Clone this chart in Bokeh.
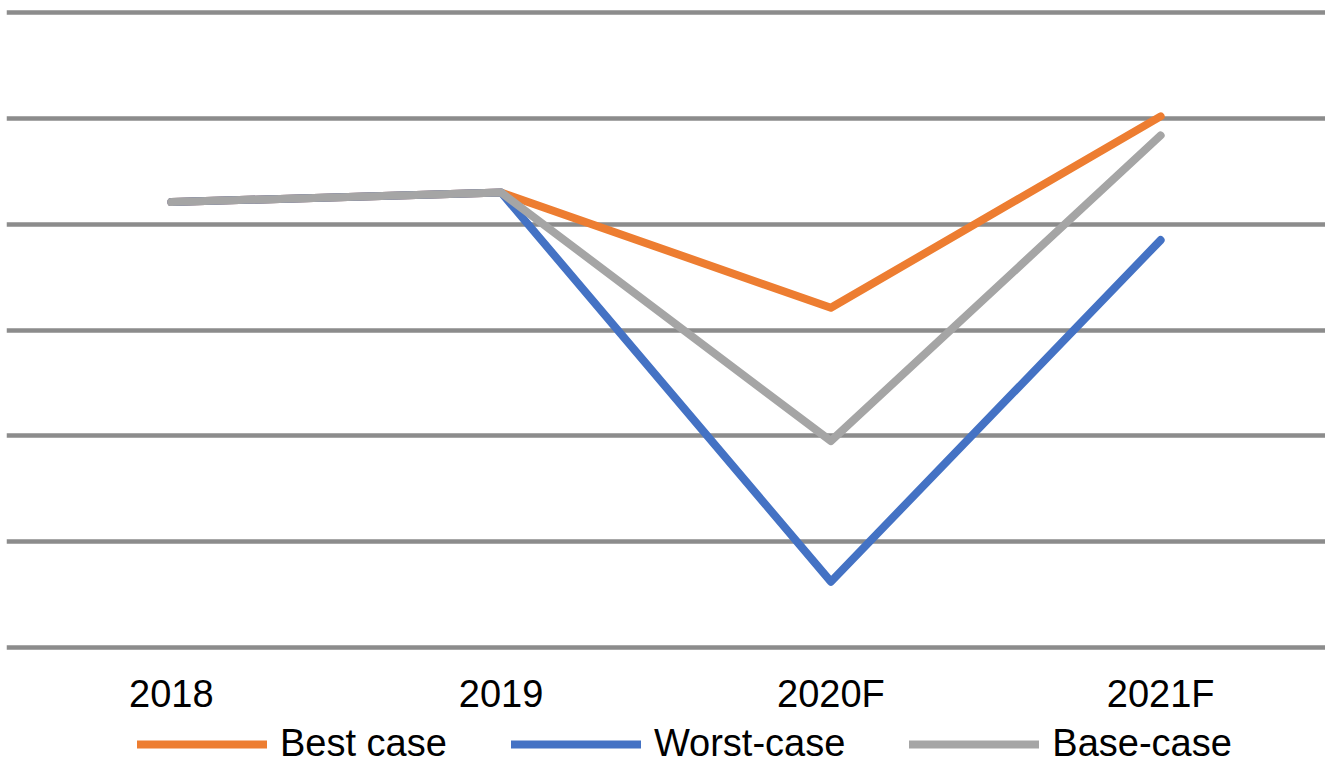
from bokeh.plotting import figure
from bokeh.layouts import column
from bokeh.models import Range1d, FixedTicker, Legend, LegendItem
from bokeh.embed import file_html
from bokeh.resources import INLINE

categories = ["2018", "2019", "2020F", "2021F"]
series_names = ["Best case", "Worst-case", "Base-case"]
best_case = [4.21, 4.30, 3.21, 5.02]
worst_case = [4.21, 4.30, 0.62, 3.85]
base_case = [4.21, 4.30, 1.95, 4.84]
grid_ticks = [0, 1, 2, 3, 4, 5, 6]

FONT = "Liberation Sans"
COLORS = ["#ED7D31", "#4472C4", "#A5A5A5"]
SERIES = [best_case, worst_case, base_case]

# main chart
p = figure(x_range=categories, y_range=Range1d(-0.04, 6.04),
           frame_width=1319, frame_height=643,
           output_backend="svg", toolbar_location=None,
           min_border_left=6, min_border_right=0, min_border_top=8, min_border_bottom=62)
p.outline_line_color = None

for vals, col in zip(SERIES, COLORS):
    p.line(categories, vals, line_color=col, line_width=8, line_cap="round", line_join="round")

p.yaxis.visible = False
p.yaxis.ticker = FixedTicker(ticks=grid_ticks)
p.ygrid.ticker = FixedTicker(ticks=grid_ticks)
p.ygrid.grid_line_color = "#8C8C8C"
p.ygrid.grid_line_width = 4.5
p.xgrid.grid_line_color = None

p.xaxis.axis_line_color = None
p.xaxis.major_tick_line_color = None
p.xaxis.minor_tick_line_color = None
p.xaxis.major_tick_out = 0
p.xaxis.major_tick_in = 0
p.xaxis.minor_tick_out = 0
p.xaxis.major_label_text_font = FONT
p.xaxis.major_label_text_font_size = "38px"
p.xaxis.major_label_text_color = "black"
p.xaxis.major_label_standoff = 21

# legend strip (same series, drawn outside its visible range; only the legend shows)
q = figure(x_range=p.x_range, y_range=Range1d(100, 101),
           frame_width=1325, frame_height=50,
           output_backend="svg", toolbar_location=None,
           x_axis_location=None, y_axis_location=None,
           min_border_left=0, min_border_right=0, min_border_top=0, min_border_bottom=0)
q.outline_line_color = None
q.xgrid.visible = False
q.ygrid.visible = False
items = []
for name, vals, col in zip(series_names, SERIES, COLORS):
    r = q.line(categories, vals, line_color=col, line_width=8, line_cap="round")
    items.append(LegendItem(label=name, renderers=[r]))

legend = Legend(items=items, orientation="horizontal", location=(137, 2))
legend.glyph_width = 130
legend.glyph_height = 30
legend.label_height = 30
legend.label_standoff = 13
legend.spacing = 64
legend.padding = 0
legend.margin = 0
legend.label_text_font = FONT
legend.label_text_font_size = "38px"
legend.label_text_color = "black"
legend.border_line_alpha = 0
legend.background_fill_alpha = 0
q.add_layout(legend, "center")

layout = column(p, q, spacing=0)
open("out.html", "w").write(file_html(layout, INLINE))
